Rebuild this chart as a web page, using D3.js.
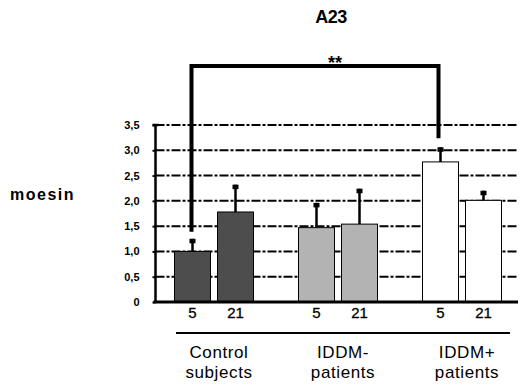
<!DOCTYPE html>
<html>
<head>
<meta charset="utf-8">
<script src="https://cdn.jsdelivr.net/npm/d3@7"></script>
<style>
  body { margin: 0; background: #fff; }
  svg { display: block; font-family: "Liberation Sans", Arial, sans-serif; }
</style>
</head>
<body>
<svg></svg>
<script>
let width = 522, height = 388;

// data
let groups = ["Control subjects", "IDDM- patients", "IDDM+ patients"];
let groupLines = [["Control", "subjects"], ["IDDM-", "patients"], ["IDDM+", "patients"]];
let days = ["5", "21"];
let means = [[1.0, 1.78], [1.47, 1.54], [2.77, 2.01]];
let errors = [[0.25, 0.54], [0.49, 0.70], [0.29, 0.19]];
let colors = ["#4d4d4d", "#b3b3b3", "#ffffff"];
let yTicks = [0, 0.5, 1, 1.5, 2, 2.5, 3, 3.5];

let svg = d3.select("svg")
    .attr("width", width)
    .attr("height", height);

let x0 = d3.scaleBand().domain(groups).range([150, 522]);
let x1 = d3.scaleBand().domain(days).range([24.5, 103.5]).paddingInner(0.163);
let y = d3.scaleLinear().domain([0, 3.5]).range([302, 125]);

let axisX = 155.5, axisRight = 518;

// grid lines
svg.append("g")
    .selectAll("line")
    .data(yTicks.filter(d => d > 0))
    .enter()
    .append("line")
    .attr("x1", axisX)
    .attr("x2", axisRight)
    .attr("y1", d => y(d))
    .attr("y2", d => y(d))
    .attr("stroke", "#000")
    .attr("stroke-width", 2)
    .attr("stroke-dasharray", "9,2,3,2");

// bars
let bars = [];
groups.forEach((g, i) => days.forEach((d, j) => bars.push({g: g, d: d, i: i, v: means[i][j], e: errors[i][j]})));

let barX = b => x0(b.g) + x1(b.d);

svg.append("g")
    .selectAll("rect")
    .data(bars)
    .enter()
    .append("rect")
    .attr("x", b => barX(b))
    .attr("y", b => y(b.v))
    .attr("width", x1.bandwidth())
    .attr("height", b => y(0) - y(b.v))
    .attr("fill", b => colors[b.i])
    .attr("stroke", "#000")
    .attr("stroke-width", 1);

// error bars
let eb = svg.append("g");
eb.selectAll("line.stem")
    .data(bars)
    .enter()
    .append("line")
    .attr("class", "stem")
    .attr("x1", b => barX(b) + x1.bandwidth() / 2)
    .attr("x2", b => barX(b) + x1.bandwidth() / 2)
    .attr("y1", b => y(b.v))
    .attr("y2", b => y(b.v + b.e))
    .attr("stroke", "#000")
    .attr("stroke-width", 2.5);
eb.selectAll("rect.cap")
    .data(bars)
    .enter()
    .append("rect")
    .attr("class", "cap")
    .attr("x", b => barX(b) + x1.bandwidth() / 2 - 3)
    .attr("y", b => y(b.v + b.e))
    .attr("width", 6)
    .attr("height", 4.5)
    .attr("fill", "#000");

// y axis
let yAxis = d3.axisLeft(y)
    .tickValues(yTicks)
    .tickSize(3)
    .tickPadding(13)
    .tickFormat(d => d === 0 ? "0" : d3.format(".1f")(d).replace(".", ","));
let ya = svg.append("g")
    .attr("transform", "translate(" + axisX + ",0)")
    .call(yAxis);
ya.select(".domain").attr("stroke-width", 2.5).attr("d", "M-3," + y(3.5) + "H3M0," + y(3.5) + "V" + y(0));
ya.selectAll(".tick line").attr("stroke-width", 2);
ya.selectAll(".tick text")
    .attr("font-size", 11)
    .attr("font-weight", "bold")
    .attr("font-family", "Liberation Sans, Arial, sans-serif");

// x axis line
svg.append("line")
    .attr("x1", axisX - 2)
    .attr("x2", axisRight)
    .attr("y1", y(0))
    .attr("y2", y(0))
    .attr("stroke", "#000")
    .attr("stroke-width", 3);

// day labels
svg.append("g")
    .selectAll("text")
    .data(bars)
    .enter()
    .append("text")
    .attr("x", b => barX(b) + x1.bandwidth() / 2)
    .attr("y", 318)
    .attr("text-anchor", "middle")
    .attr("font-size", 15)
    .attr("stroke", "#000")
    .attr("stroke-width", 0.3)
    .text(b => b.d);

// group separator line
svg.append("line")
    .attr("x1", 176).attr("x2", 510)
    .attr("y1", 333).attr("y2", 333)
    .attr("stroke", "#000")
    .attr("stroke-width", 2);

// group labels
let gl = svg.append("g")
    .selectAll("text")
    .data(groups)
    .enter()
    .append("text")
    .attr("x", (g, i) => x0(g) + x0.bandwidth() / 2 + 7)
    .attr("y", 358)
    .attr("text-anchor", "middle")
    .attr("font-size", 17)
    .attr("letter-spacing", 0.6);
gl.selectAll("tspan")
    .data((g, i) => groupLines[i])
    .enter()
    .append("tspan")
    .attr("x", function() { return d3.select(this.parentNode).attr("x"); })
    .attr("dy", (d, k) => k === 0 ? 0 : 20)
    .text(d => d);

// significance
svg.append("text")
    .attr("x", 335)
    .attr("y", 69)
    .attr("text-anchor", "middle")
    .attr("font-size", 18)
    .attr("font-weight", "bold")
    .text("**");

let leftX = x0(groups[0]) + x1("5") + x1.bandwidth() / 2 - 1;
let rightX = x0(groups[2]) + x1("5") + x1.bandwidth() / 2 - 2;
svg.append("path")
    .attr("d", "M" + leftX + "," + y(1.39) + "V66H" + rightX + "V" + y(3.24))
    .attr("fill", "none")
    .attr("stroke", "#000")
    .attr("stroke-width", 4);

// title
svg.append("text")
    .attr("x", 331)
    .attr("y", 23)
    .attr("text-anchor", "middle")
    .attr("font-size", 18)
    .attr("font-weight", "bold")
    .attr("letter-spacing", -0.5)
    .text("A23");

// y label
svg.append("text")
    .attr("x", 10)
    .attr("y", 200)
    .attr("font-size", 16)
    .attr("font-weight", "bold")
    .attr("letter-spacing", 1.5)
    .text("moesin");
</script>
</body>
</html>
